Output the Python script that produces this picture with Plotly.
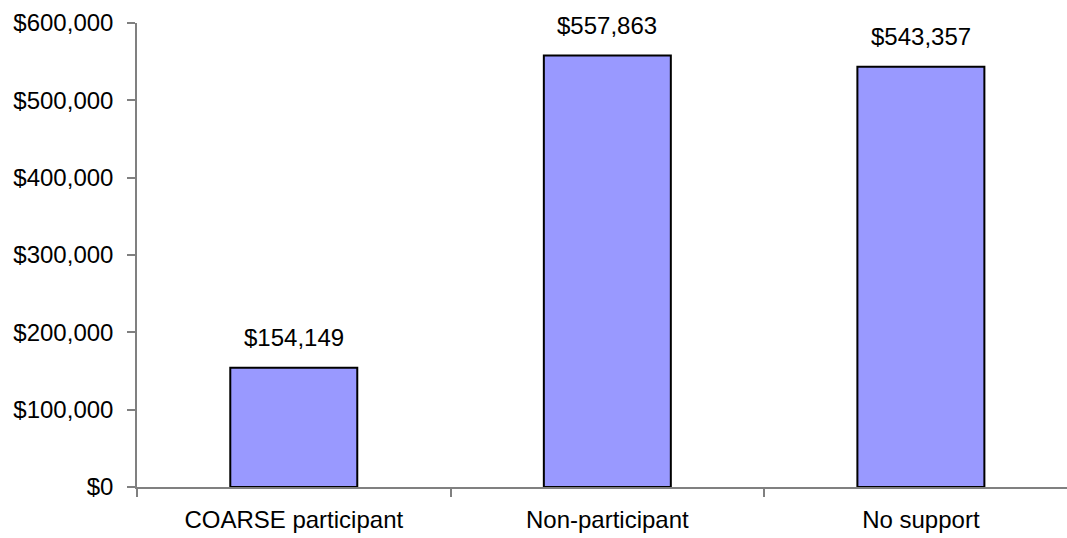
import plotly.graph_objects as go

categories = ["COARSE participant", "Non-participant", "No support"]
values = [154149, 557863, 543357]
y_ticks = [0, 100000, 200000, 300000, 400000, 500000, 600000]
y_tick_labels = ["$0", "$100,000", "$200,000", "$300,000", "$400,000", "$500,000", "$600,000"]

font_family = "Liberation Sans, Arial, sans-serif"
font_size = 24

fig = go.Figure(
    go.Bar(
        x=categories,
        y=values,
        width=0.405,
        marker=dict(color="#9999FF", line=dict(color="#000000", width=2)),
        hoverinfo="skip",
    )
)

for cat, val in zip(categories, values):
    fig.add_annotation(
        x=cat, y=val, text=f"${val:,.0f}", showarrow=False,
        yanchor="bottom", yshift=15,
        font=dict(family=font_family, size=font_size, color="#000000"),
    )

fig.update_layout(
    width=1067, height=538,
    margin=dict(l=137, r=0, t=23, b=51),
    paper_bgcolor="white", plot_bgcolor="white",
    showlegend=False,
    font=dict(family=font_family, size=font_size, color="#000000"),
)

fig.update_xaxes(
    range=[-0.5, 2.466],
    showline=True, linecolor="#808080", linewidth=1.5,
    ticks="outside", ticklen=8, tickcolor="#808080", tickwidth=1.5,
    tickson="boundaries",
    showgrid=False, zeroline=False,
    ticklabelstandoff=10,
)
fig.update_yaxes(
    range=[0, 600000],
    tickvals=y_ticks, ticktext=y_tick_labels,
    showline=True, linecolor="#808080", linewidth=1.5,
    ticks="outside", ticklen=8, tickcolor="#808080", tickwidth=1.5,
    showgrid=False, zeroline=False,
    ticklabelstandoff=9,
)

fig.write_html("out.html")
